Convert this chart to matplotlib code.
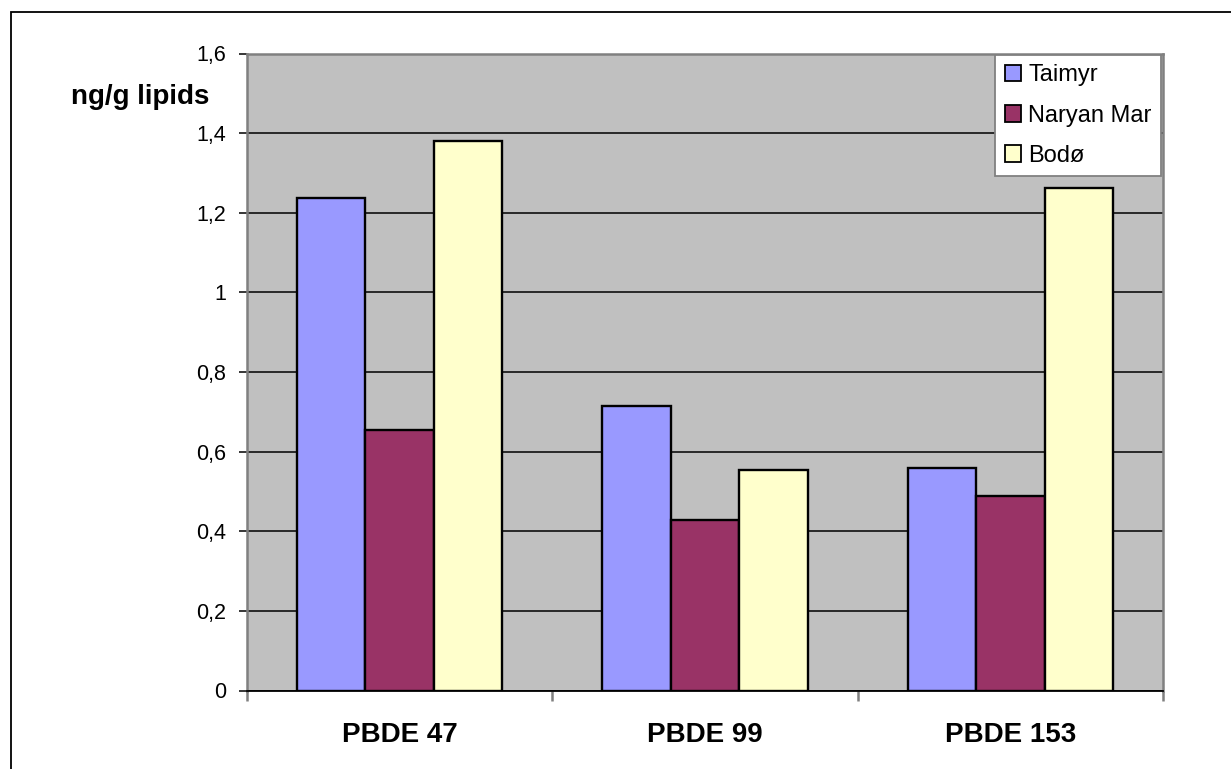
import matplotlib
matplotlib.use("Agg")
import matplotlib.pyplot as plt
from matplotlib.patches import Rectangle
import numpy as np

plt.rcParams['font.family'] = ['Liberation Sans', 'DejaVu Sans']

categories = ["PBDE 47", "PBDE 99", "PBDE 153"]
series_names = ["Taimyr", "Naryan Mar", "Bodø"]
taimyr = [1.237, 0.715, 0.558]
naryan_mar = [0.655, 0.428, 0.489]
bodo = [1.381, 0.554, 1.263]
series_values = [taimyr, naryan_mar, bodo]
series_colors = ["#9999FF", "#993366", "#FFFFCC"]
y_ticks = [0, 0.2, 0.4, 0.6, 0.8, 1, 1.2, 1.4, 1.6]
y_tick_labels = ["0", "0,2", "0,4", "0,6", "0,8", "1", "1,2", "1,4", "1,6"]

W, H = 1231, 769
fig = plt.figure(figsize=(W / 100, H / 100), dpi=100)
fig.patch.set_facecolor("white")

# outer chart frame
fig.patches.append(Rectangle((11 / W, -0.05), 1.1, 1 - 12 / H + 0.05,
                             transform=fig.transFigure, fill=False,
                             edgecolor="black", linewidth=1.3))

ax = fig.add_axes([247 / W, 1 - 690.5 / H, (1163 - 247) / W, (690.5 - 53.5) / H])
ax.set_facecolor("#C0C0C0")

x = np.arange(len(categories))
bw = 0.224
for i, (name, vals, col) in enumerate(zip(series_names, series_values, series_colors)):
    ax.bar(x + (i - 1) * bw, vals, width=bw, color=col, edgecolor="black",
           linewidth=1.7, label=name, zorder=3)

ax.set_xlim(-0.5, len(categories) - 0.5)
ax.set_ylim(0, 1.6)
ax.set_yticks(y_ticks)
ax.set_yticklabels(y_tick_labels, fontsize=15.5)
ax.yaxis.grid(True, color="black", linewidth=1.1, zorder=1)
ax.set_axisbelow(True)
ax.tick_params(axis="y", direction="out", length=6, width=1.1, color="black", pad=9)

ax.set_xticks(x)
ax.set_xticklabels(categories, fontsize=20, fontweight="bold")
ax.tick_params(axis="x", which="major", length=0, pad=23)
ax.set_xticks(np.arange(-0.5, len(categories)), minor=True)
ax.tick_params(axis="x", which="minor", direction="out", length=7, width=1.8, color="#808080")

for side in ("left", "right", "top"):
    ax.spines[side].set_color("#808080")
    ax.spines[side].set_linewidth(1.8)
ax.spines["bottom"].set_color("black")
ax.spines["bottom"].set_linewidth(1.3)

fig.text(140 / W, 1 - 97 / H, "ng/g lipids", fontsize=20, fontweight="bold",
         ha="center", va="center")

leg = ax.legend(loc="upper right", bbox_to_anchor=(1161 / W, 1 - 55 / H),
                bbox_transform=fig.transFigure, borderaxespad=0, fontsize=17,
                frameon=True, fancybox=False, handlelength=0.7, handleheight=0.7,
                handletextpad=0.3, labelspacing=0.77, borderpad=0.4)
frame = leg.get_frame()
frame.set_facecolor("white")
frame.set_edgecolor("#808080")
frame.set_linewidth(1.3)
frame.set_alpha(1)
for h in leg.legend_handles:
    h.set_linewidth(1.3)

fig.savefig("out.png", dpi=100)
